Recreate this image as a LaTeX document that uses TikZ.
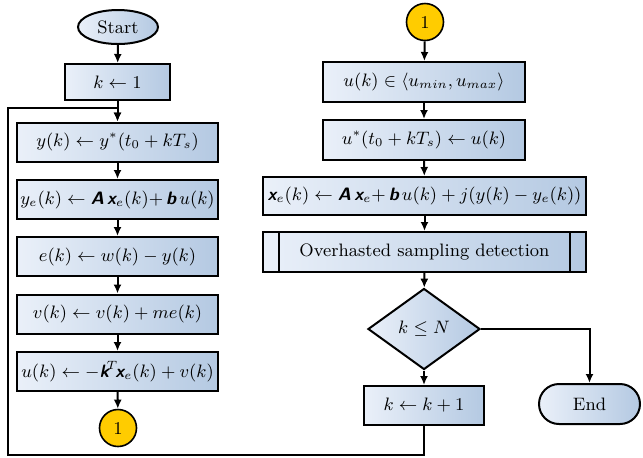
\documentclass[tikz,border=0pt]{standalone}
\usepackage{amsmath}
\usetikzlibrary{shapes.geometric,arrows.meta}
\definecolor{boxl}{RGB}{234,240,249}
\definecolor{boxr}{RGB}{180,201,226}
\definecolor{gold}{RGB}{255,204,0}
\newcommand{\bv}[1]{\text{\sffamily\bfseries\slshape #1}}
\begin{document}
\begin{tikzpicture}[x=0.5pt,y=-0.5pt,
  font=\fontsize{9}{11}\selectfont,
  base/.style={draw=black,line width=1pt,left color=boxl,right color=boxr,inner sep=0pt,align=center},
  proc/.style={base,rectangle,minimum width=100.5pt,minimum height=19.5pt},
  conn/.style={draw=black,line width=0.8pt,fill=gold,circle,minimum size=18.5pt,inner sep=0pt},
  arr/.style={line width=1pt,-{Latex[length=4.5pt,width=4pt]}},
  ln/.style={line width=1pt}]
\useasboundingbox (0,0) rectangle (643,457);
% left column
\node[base,ellipse,minimum width=40pt,minimum height=17pt] (start) at (118,27) {Start};
\node[proc,minimum width=52.5pt,minimum height=18pt] (k1) at (117.5,82) {$k \leftarrow 1$};
\node[proc] (yb) at (117.5,142) {$y(k) \leftarrow y^{*}(t_0 + kT_s)$};
\node[proc] (ye) at (117.5,199.5) {$y_e(k) \leftarrow \bv{A}\,\bv{x}_e(k) {+}\, \bv{b}\,u(k)$};
\node[proc] (eb) at (117.5,256.5) {$e(k) \leftarrow w(k) - y(k)$};
\node[proc] (vb) at (117.5,314) {$v(k) \leftarrow v(k) + me(k)$};
\node[proc] (ub) at (117.5,371.5) {$u(k) \leftarrow -\bv{k}^{\!T}\!\bv{x}_e(k) + v(k)$};
\node[conn] (c1) at (118,428) {1};
% right column
\node[conn] (c2) at (425,22) {1};
\node[proc,minimum width=101pt,minimum height=20pt] (r1) at (424,82) {$u(k) \in \langle u_{min}, u_{max}\rangle$};
\node[proc,minimum width=101pt,minimum height=20pt] (r2) at (424,140) {$u^{*}(t_0 + kT_s) \leftarrow u(k)$};
\node[proc,minimum width=161.5pt,minimum height=19pt] (r3) at (424.5,196) {$\bv{x}_e(k) \leftarrow \bv{A}\,\bv{x}_e {+}\, \bv{b}\,u(k) + j(y(k) - y_e(k))$};
\node[proc,minimum width=161.5pt,minimum height=20pt] (r4) at (424.5,252) {Overhasted sampling detection};
\draw[ln] ([xshift=8.5pt]r4.north west) -- ([xshift=8.5pt]r4.south west);
\draw[ln] ([xshift=-8.5pt]r4.north east) -- ([xshift=-8.5pt]r4.south east);
\node[base,diamond,minimum width=56pt,minimum height=40.5pt] (dec) at (424,329) {$k \leq N$};
\node[proc,minimum width=60pt,minimum height=19.5pt] (kk) at (424,405.5) {$k \leftarrow k + 1$};
\node[base,rectangle,rounded corners=10pt,minimum width=50.5pt,minimum height=20pt] (end) at (589.5,404) {End};
% connectors
\draw[arr] (start) -- (k1);
\draw[arr] (k1) -- (yb);
\draw[arr] (yb) -- (ye);
\draw[arr] (ye) -- (eb);
\draw[arr] (eb) -- (vb);
\draw[arr] (vb) -- (ub);
\draw[arr] (ub) -- (c1);
\draw[arr] (c2) -- (r1);
\draw[arr] (r1) -- (r2);
\draw[arr] (r2) -- (r3);
\draw[arr] (r3) -- (r4);
\draw[arr] (r4) -- (dec);
\draw[arr] (dec) -- (kk);
\draw[arr] (dec.east) -| (end.north);
\coordinate (lb) at (8,455);
\coordinate (lt) at (8,108);
\draw[arr] (kk.south) |- (lb) -- (lt) -| (yb.north);
\end{tikzpicture}
\end{document}
